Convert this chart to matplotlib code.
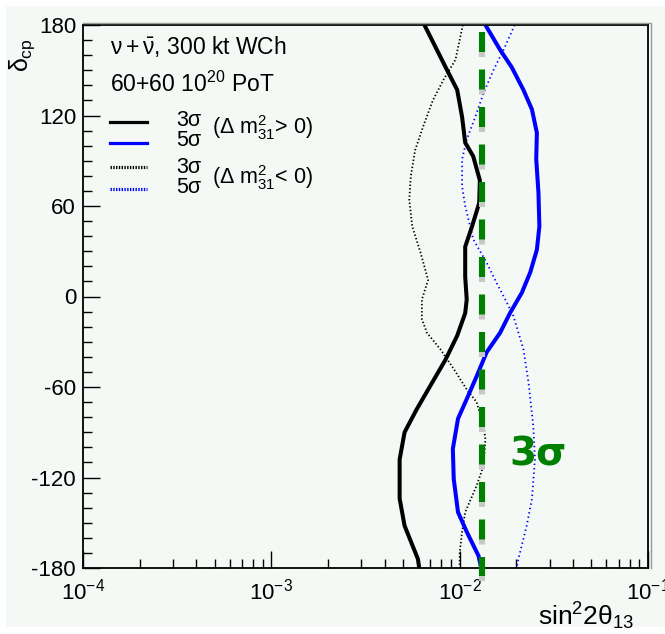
import matplotlib
matplotlib.use('Agg')
import matplotlib.pyplot as plt
import matplotlib.transforms as mtransforms
from matplotlib.patches import Rectangle
from matplotlib.lines import Line2D
from matplotlib.ticker import FixedLocator, LogLocator, NullFormatter, FixedFormatter

plt.rcParams['font.family'] = ['Liberation Sans', 'DejaVu Sans']
plt.rcParams['mathtext.fontset'] = 'custom'
plt.rcParams['mathtext.rm'] = 'Liberation Sans'
plt.rcParams['mathtext.it'] = 'Liberation Sans'
plt.rcParams['mathtext.bf'] = 'Liberation Sans:bold'
plt.rcParams['mathtext.sf'] = 'Liberation Sans'
plt.rcParams['axes.unicode_minus'] = False
plt.rcParams['lines.scale_dashes'] = False

# ---------------- data ----------------
# 3 sigma, normal hierarchy (solid black)
delta_3n = [180, 151, 137, 119, 102, 93, 77, 62, 46, 33, 13, -2, -11, -26, -42,
            -59, -75, -90, -108, -134, -152, -174, -180]
s_3n = [0.0065, 0.0085, 0.0097, 0.0103, 0.0107, 0.0118, 0.0128, 0.0127, 0.0116,
        0.0107, 0.0107, 0.0109, 0.0107, 0.0097, 0.0084, 0.0070, 0.0059, 0.0051,
        0.0048, 0.0048, 0.0051, 0.0060, 0.0061]

# 5 sigma, normal hierarchy (solid blue)
delta_5n = [180, 163.5, 152, 137, 124, 108.5, 91, 69, 46.5, 31, 16, 2.6, -11, -24,
            -37, -53, -68, -81, -101, -121, -143, -156, -172, -180]
s_5n = [0.0137, 0.0164, 0.0189, 0.0218, 0.0242, 0.0257, 0.0255, 0.0262, 0.0265,
        0.0257, 0.0237, 0.0214, 0.0185, 0.0164, 0.0139, 0.0123, 0.0109, 0.0098,
        0.0092, 0.0093, 0.0098, 0.0109, 0.0126, 0.0130]

# 3 sigma, inverted hierarchy (dotted black)
delta_3i = [180, 157, 143.6, 130, 112.7, 97, 79.6, 64, 46.5, 29, 11, -2, -15, -24,
            -35, -48, -61.6, -70, -86, -94.6, -112, -125.5, -143, -156, -170, -180]
s_3i = [0.0104, 0.0095, 0.0082, 0.0072, 0.0064, 0.0058, 0.0055, 0.0054, 0.0056,
        0.0062, 0.0068, 0.0063, 0.0063, 0.0067, 0.0079, 0.0093, 0.0109, 0.0123,
        0.0134, 0.0137, 0.0134, 0.0123, 0.0107, 0.0103, 0.0100, 0.0100]

# 5 sigma, inverted hierarchy (dotted blue)
delta_5i = [180, 163.5, 150, 135, 119, 104, 91, 73, 60, 38, 22.5, 9, -4, -13, -35,
            -57, -86, -108, -134, -152, -174, -180]
s_5i = [0.0196, 0.0171, 0.0151, 0.0134, 0.0121, 0.0109, 0.0103, 0.0103, 0.0107,
        0.0118, 0.0139, 0.0157, 0.0178, 0.0193, 0.0218, 0.0232, 0.0246, 0.0251,
        0.0242, 0.0227, 0.0205, 0.0201]

# green 3 sigma reference line
ref_value = 0.0131
ref_delta = [175.5, -185.5]

y_ticks = [-180, -120, -60, 0, 60, 120, 180]
y_ticklabels = ['-180', '-120', '-60', '0', '60', '120', '180']
x_ticks = [1e-4, 1e-3, 1e-2, 1e-1]
x_ticklabels = [r'$10^{-4}$', r'$10^{-3}$', r'$10^{-2}$', r'$10^{-1}$']

# ---------------- figure ----------------
W, H = 665, 634
bg = '#f4f9f6'
fig = plt.figure(figsize=(W / 100, H / 100), dpi=100, facecolor='white')
fig.patches.append(Rectangle((6 / W, 7 / H), 659 / W, 621 / H,
                             transform=fig.transFigure, facecolor=bg,
                             edgecolor='none', zorder=-10))


def P(x, y):
    return (x / W, 1 - y / H)


ax = fig.add_axes([83 / W, 1 - 568 / H, (648 - 83) / W, (568 - 25) / H])
ax.set_facecolor(bg)
ax.set_xscale('log')
ax.set_xlim(1e-4, 1e-1)
ax.set_ylim(-180, 180)

for sp in ax.spines.values():
    sp.set_color('black')
    sp.set_linewidth(1.3)
# grey shadow of the frame (top and right)
fig.add_artist(Line2D([83 / W, 650.5 / W, 650.5 / W],
                      [1 - 22.5 / H, 1 - 22.5 / H, 1 - 568 / H],
                      color='#9a9a9a', lw=1.0, transform=fig.transFigure))

ax.xaxis.set_major_locator(FixedLocator(x_ticks))
ax.xaxis.set_major_formatter(FixedFormatter(x_ticklabels))
ax.xaxis.set_minor_locator(LogLocator(base=10, subs=range(2, 10)))
ax.xaxis.set_minor_formatter(NullFormatter())
ax.yaxis.set_major_locator(FixedLocator(y_ticks))
ax.yaxis.set_major_formatter(FixedFormatter(y_ticklabels))
ax.yaxis.set_minor_locator(FixedLocator(list(range(-180, 181, 10))))

ax.tick_params(which='both', direction='in', top=False, right=False,
               color='black', width=1.0)
ax.tick_params(which='major', length=12, labelsize=16)
ax.tick_params(which='minor', length=6.5)
ax.tick_params(axis='x', which='major', pad=7.5)
ax.tick_params(axis='y', which='major', pad=5)

# curves
ax.plot(s_3i, delta_3i, color='black', lw=1.3, linestyle=(0, (1, 1.6)))
ax.plot(s_5i, delta_5i, color='#0000ff', lw=1.3, linestyle=(0, (1, 2.2)))
ax.plot(s_3n, delta_3n, color='black', lw=2.9, solid_capstyle='butt',
        solid_joinstyle='round')
ax.plot(s_5n, delta_5n, color='#0000ff', lw=2.9, solid_capstyle='butt',
        solid_joinstyle='round')

# green dashed line with grey shadow
shadow = mtransforms.offset_copy(ax.transData, fig=fig, x=0, y=-5, units='dots')
dash = (0, (14.4, 12.6))
ax.plot([ref_value, ref_value], ref_delta, color='#c8c8c8', lw=4.4,
        linestyle=dash, transform=shadow, clip_on=False, zorder=5,
        dash_capstyle='butt')
ax.plot([ref_value, ref_value], ref_delta, color='#008000', lw=4.4,
        linestyle=dash, clip_on=False, zorder=6, dash_capstyle='butt')

fig.text(*P(509, 465), '3σ', color='#008000', fontsize=28, fontweight='bold',
         family='DejaVu Sans', va='baseline', ha='left')

# axis titles
fig.text(*P(634, 625), r'sin$^{2}$2$\theta_{13}$', fontsize=19, ha='right',
         va='baseline')
fig.text(*P(22, 55), r'$\delta_{\rm cp}$', fontsize=18, rotation=90,
         ha='center', va='center')

# legend block
fig.text(*P(110, 54), r'$\nu + \bar{\nu}$, 300 kt WCh', fontsize=16.5,
         va='baseline')
fig.text(*P(110, 92), r'60+60 10$^{20}$ PoT', fontsize=16.5, va='baseline')

leg = [('black', '-', 121.5), ('#0000ff', '-', 143),
       ('black', (0, (1, 1)), 167), ('#0000ff', (0, (1, 1)), 189)]
for col, ls, yy in leg:
    fig.add_artist(Line2D([110 / W, 147 / W], [1 - yy / H] * 2, color=col,
                          lw=2.3, linestyle=ls, transform=fig.transFigure))

fig.text(*P(176, 126), '3σ', fontsize=15.5, va='baseline')
fig.text(*P(176, 146), '5σ', fontsize=15.5, va='baseline')
fig.text(*P(212, 128), r'($\Delta$ m$^{2}_{31}$> 0)', fontsize=15.5, va='center')
fig.text(*P(176, 173), '3σ', fontsize=15.5, va='baseline')
fig.text(*P(176, 193), '5σ', fontsize=15.5, va='baseline')
fig.text(*P(212, 178), r'($\Delta$ m$^{2}_{31}$< 0)', fontsize=15.5, va='center')

fig.savefig('out.png', dpi=100, facecolor='white')
